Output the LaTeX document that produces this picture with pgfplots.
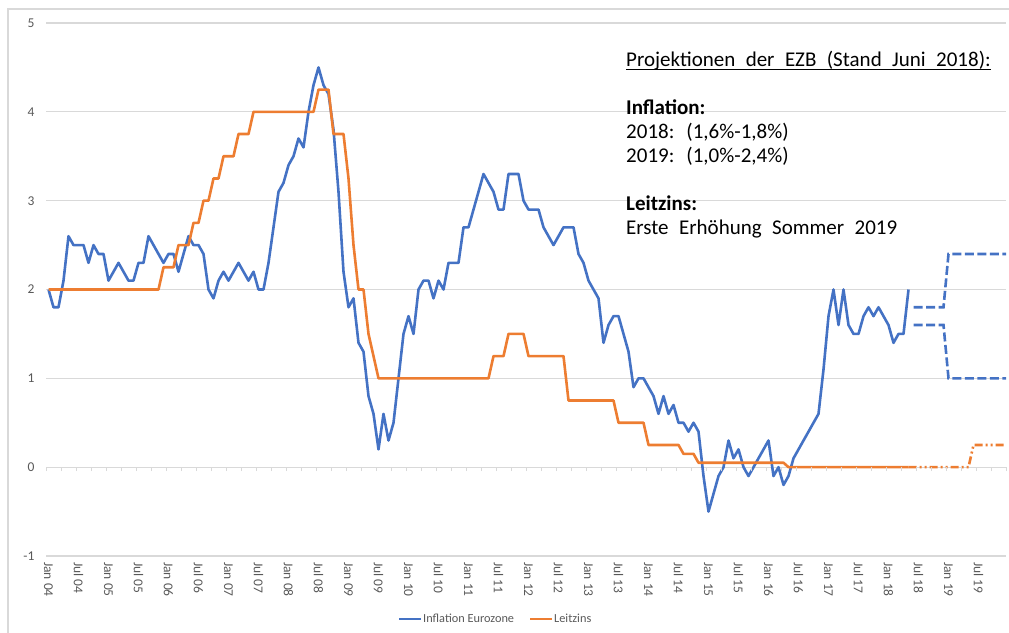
\documentclass[border=0pt]{standalone}
\usepackage{pgfplots}
\usepackage{pgfplotstable}
\pgfplotsset{compat=1.18}
\usepackage{fontspec}
\setmainfont{Carlito}
\newfontfamily\annfont[WordSpace=2.2]{Carlito}
\definecolor{exblue}{HTML}{4472C4}
\definecolor{exorange}{HTML}{ED7D31}
\definecolor{gridgray}{HTML}{D9D9D9}
\definecolor{txtgray}{HTML}{595959}

\pgfplotstableread{
x y
0 2.0
1 1.8
2 1.8
3 2.1
4 2.6
5 2.5
6 2.5
7 2.5
8 2.3
9 2.5
10 2.4
11 2.4
12 2.1
13 2.2
14 2.3
15 2.2
16 2.1
17 2.1
18 2.3
19 2.3
20 2.6
21 2.5
22 2.4
23 2.3
24 2.4
25 2.4
26 2.2
27 2.4
28 2.6
29 2.5
30 2.5
31 2.4
32 2.0
33 1.9
34 2.1
35 2.2
36 2.1
37 2.2
38 2.3
39 2.2
40 2.1
41 2.2
42 2.0
43 2.0
44 2.3
45 2.7
46 3.1
47 3.2
48 3.4
49 3.5
50 3.7
51 3.6
52 4.0
53 4.3
54 4.5
55 4.3
56 4.2
57 3.8
58 3.1
59 2.2
60 1.8
61 1.9
62 1.4
63 1.3
64 0.8
65 0.6
66 0.2
67 0.6
68 0.3
69 0.5
70 1.0
71 1.5
72 1.7
73 1.5
74 2.0
75 2.1
76 2.1
77 1.9
78 2.1
79 2.0
80 2.3
81 2.3
82 2.3
83 2.7
84 2.7
85 2.9
86 3.1
87 3.3
88 3.2
89 3.1
90 2.9
91 2.9
92 3.3
93 3.3
94 3.3
95 3.0
96 2.9
97 2.9
98 2.9
99 2.7
100 2.6
101 2.5
102 2.6
103 2.7
104 2.7
105 2.7
106 2.4
107 2.3
108 2.1
109 2.0
110 1.9
111 1.4
112 1.6
113 1.7
114 1.7
115 1.5
116 1.3
117 0.9
118 1.0
119 1.0
120 0.9
121 0.8
122 0.6
123 0.8
124 0.6
125 0.7
126 0.5
127 0.5
128 0.4
129 0.5
130 0.4
131 -0.1
132 -0.5
133 -0.3
134 -0.1
135 0.0
136 0.3
137 0.1
138 0.2
139 0.0
140 -0.1
141 0.0
142 0.1
143 0.2
144 0.3
145 -0.1
146 0.0
147 -0.2
148 -0.1
149 0.1
150 0.2
151 0.3
152 0.4
153 0.5
154 0.6
155 1.1
156 1.7
157 2.0
158 1.6
159 2.0
160 1.6
161 1.5
162 1.5
163 1.7
164 1.8
165 1.7
166 1.8
167 1.7
168 1.6
169 1.4
170 1.5
171 1.5
172 2.0
}\inflation

\pgfplotstableread{
x y
0 2.0
22 2.0
23 2.25
25 2.25
26 2.5
28 2.5
29 2.75
30 2.75
31 3.0
32 3.0
33 3.25
34 3.25
35 3.5
37 3.5
38 3.75
40 3.75
41 4.0
53 4.0
54 4.25
56 4.25
57 3.75
59 3.75
60 3.25
61 2.5
62 2.0
63 2.0
64 1.5
65 1.25
66 1.0
88 1.0
89 1.25
91 1.25
92 1.5
95 1.5
96 1.25
103 1.25
104 0.75
113 0.75
114 0.5
119 0.5
120 0.25
126 0.25
127 0.15
129 0.15
130 0.05
147 0.05
148 0.0
172 0.0
}\leitzins

\begin{document}
\begin{tikzpicture}
\useasboundingbox (0pt,0pt) rectangle (1009pt,632pt);
\draw[gridgray, line width=1.2pt] (8pt,-5pt) -- (8pt,623pt) -- (1015pt,623pt);
\begin{axis}[
  at={(46pt,76pt)}, anchor=south west,
  scale only axis, width=960pt, height=533pt,
  xmin=-0.5, xmax=191.5, ymin=-1, ymax=5,
  axis line style={draw=none},
  ytick={-1,0,1,2,3,4,5},
  yticklabels={-1,0,1,2,3,4,5},
  ymajorgrids,
  grid style={gridgray, line width=1.2pt},
  major tick length=0pt,
  xtick={0,6,...,186},
  xticklabels={Jan 04,Jul 04,Jan 05,Jul 05,Jan 06,Jul 06,Jan 07,Jul 07,Jan 08,Jul 08,Jan 09,Jul 09,Jan 10,Jul 10,Jan 11,Jul 11,Jan 12,Jul 12,Jan 13,Jul 13,Jan 14,Jul 14,Jan 15,Jul 15,Jan 16,Jul 16,Jan 17,Jul 17,Jan 18,Jul 18,Jan 19,Jul 19},
  xticklabel style={rotate=-90, anchor=west, font=\fontsize{13.5}{15}\selectfont, text=txtgray, inner xsep=6pt},
  yticklabel style={font=\fontsize{13.5}{15}\selectfont, text=txtgray, xshift=-8pt},
  legend style={at={(0.468,-0.118)}, anchor=center, draw=none, fill=none,
    legend columns=2, font=\fontsize{12.3}{14}\selectfont, text=txtgray,
    /tikz/every even column/.append style={column sep=14pt},
    nodes={inner xsep=1pt}},
  legend image code/.code={\draw[#1, line width=2pt] (0pt,0pt) -- (22pt,0pt);},
]
\addplot[exblue, line width=2.6pt, line join=round] table {\inflation};
\addlegendentry{Inflation Eurozone}
\addplot[exorange, line width=2.6pt, line join=round] table {\leitzins};
\addlegendentry{Leitzins}
\addplot[exblue, line width=2.6pt, dash pattern=on 9pt off 3.5pt, forget plot] coordinates {(173,1.8) (179,1.8) (180,2.4) (191.5,2.4)};
\addplot[exblue, line width=2.6pt, dash pattern=on 9pt off 3.5pt, forget plot] coordinates {(173,1.6) (179,1.6) (180,1.0) (191.5,1.0)};
\addplot[exorange, line width=2.6pt, dash pattern=on 8pt off 3pt on 2pt off 3pt on 2pt off 3pt, forget plot] coordinates {(172,0) (184,0) (185,0.25) (191.5,0.25)};
\end{axis}
\begin{axis}[
  at={(46pt,76pt)}, anchor=south west,
  scale only axis, width=960pt, height=533pt,
  xmin=-0.5, xmax=191.5, ymin=-1, ymax=5,
  axis x line=middle, axis y line=none,
  x axis line style={draw=none},
  xtick={-0.5,2.5,...,191.5}, xticklabels={},
  ytick=\empty,
  tick align=outside, major tick length=4pt,
  tick style={gridgray, line width=1pt},
]
\addplot[draw=none] coordinates {(0,0)};
\end{axis}
\node[anchor=base west, inner sep=0pt, font=\annfont\fontsize{21}{24}\selectfont] (p) at (626pt,565pt) {Projektionen der EZB (Stand Juni 2018):};
\draw[line width=1.1pt] ([yshift=-2.5pt]p.base west) -- ([yshift=-2.5pt]p.base east);
\node[anchor=base west, inner sep=0pt, font=\annfont\bfseries\fontsize{21}{24}\selectfont] at (626pt,517pt) {Inflation:};
\node[anchor=base west, inner sep=0pt, font=\annfont\fontsize{21}{24}\selectfont] at (626pt,493pt) {2018: (1,6\%-1,8\%)};
\node[anchor=base west, inner sep=0pt, font=\annfont\fontsize{21}{24}\selectfont] at (626pt,469pt) {2019: (1,0\%-2,4\%)};
\node[anchor=base west, inner sep=0pt, font=\annfont\bfseries\fontsize{21}{24}\selectfont] at (626pt,421pt) {Leitzins:};
\node[anchor=base west, inner sep=0pt, font=\annfont\fontsize{21}{24}\selectfont] at (626pt,397pt) {Erste Erhöhung Sommer 2019};
\end{tikzpicture}
\end{document}
